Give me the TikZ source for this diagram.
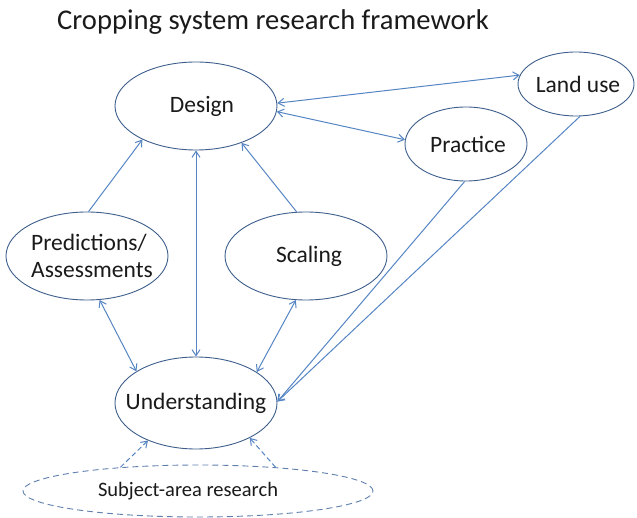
\documentclass[tikz,border=0pt]{standalone}
\usepackage{fontspec}
\setmainfont{Carlito}
\usetikzlibrary{shapes.geometric,arrows.meta}
\definecolor{ellcol}{HTML}{3E5F8C}
\definecolor{dashcol}{HTML}{5F7FAD}
\definecolor{linecol}{HTML}{5585C3}
\definecolor{txtcol}{HTML}{1A1A1A}
\tikzset{
  ell/.style={ellipse, draw=ellcol, line width=0.9pt, inner sep=0pt, fill=white},
  conn/.style={draw=linecol, line width=1pt, arrows={-}},
  tip/.style={-{Straight Barb[length=6pt,width=8pt]}},
  bitip/.style={{Straight Barb[length=6pt,width=8pt]}-{Straight Barb[length=6pt,width=8pt]}},
  dashline/.style={dash pattern=on 6pt off 4pt},
  every label/.style={font=\fontsize{23.5}{27}\selectfont, text=txtcol, inner sep=0pt}
}
\begin{document}
\begin{tikzpicture}[x=1pt,y=-1pt]
\useasboundingbox (0,0) rectangle (637,518);
\node[anchor=base west, inner sep=0pt, text=txtcol, font=\fontsize{28.6}{32}\selectfont] (title) at (57,30) {Cropping system research framework};

\node[ell, minimum width=162pt, minimum height=88pt, label={[xshift=6pt]center:Design}] (design) at (196,106) {};
\node[ell, minimum width=116pt, minimum height=64pt, label={[xshift=2pt]center:Land use}] (landuse) at (576,84) {};
\node[ell, minimum width=122pt, minimum height=74pt, label={[xshift=2pt]center:Practice}] (practice) at (466,144) {};
\node[ell, minimum width=162pt, minimum height=88pt, label={[xshift=5pt,align=left]center:Predictions/\\Assessments}] (pred) at (87,256) {};
\node[ell, minimum width=162pt, minimum height=88pt, label={[xshift=3pt]center:Scaling}] (scaling) at (306,256) {};
\node[ell, minimum width=162pt, minimum height=92pt, label={center:Understanding}] (under) at (196,403) {};
\node[ell, draw=dashcol, dashline, minimum width=350pt, minimum height=52pt, label={[xshift=-10pt,font=\fontsize{20.5}{24}\selectfont]center:Subject-area research}] (subject) at (198,491) {};

\draw[conn, bitip] (design.2) -- (landuse.171);
\draw[conn, bitip] (design.-4) -- (practice.176);
\draw[conn, tip] (pred.88) -- (design.212);
\draw[conn, tip] (scaling.102) -- (design.-39);
\draw[conn, bitip] (design.-90) -- (under.90);
\draw[conn, bitip] (pred.-74) -- (under.152);
\draw[conn, bitip] (scaling.-103) -- (under.27);
\draw[conn, tip] (practice.-92) -- (under.1);
\draw[conn, tip] (landuse.-83) -- (under.1);
\draw[conn, tip, dashline, dash pattern=on 5pt off 3pt] (subject.163) -- (under.218);
\draw[conn, tip, dashline, dash pattern=on 5pt off 3pt] (subject.17) -- (under.-33);
\end{tikzpicture}
\end{document}
